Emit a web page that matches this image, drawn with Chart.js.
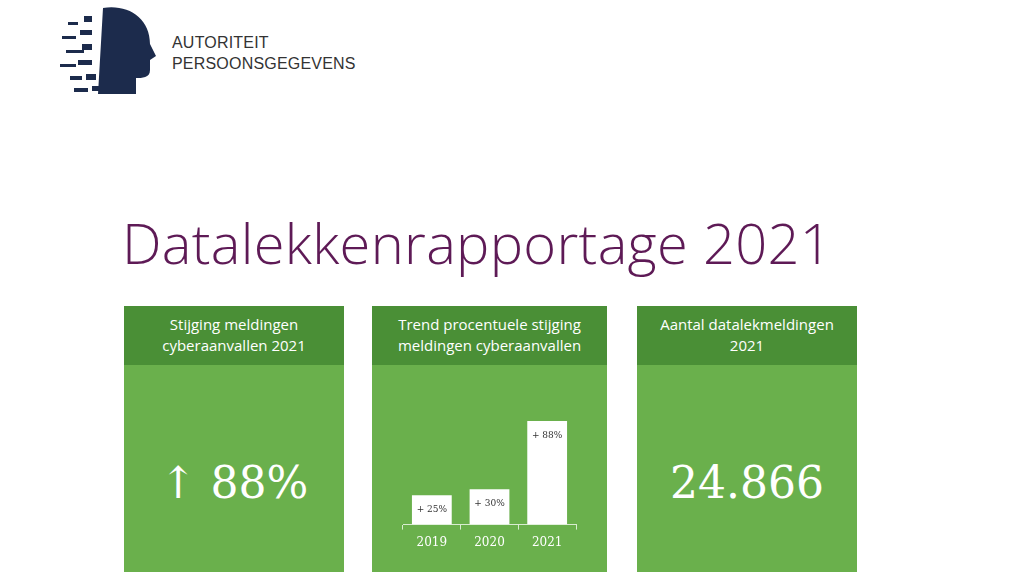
<!DOCTYPE html>
<html>
<head>
<meta charset="utf-8">
<script src="https://cdn.jsdelivr.net/npm/chart.js@4"></script>
<style>
body { margin:0; width:1030px; height:580px; background:#fff; position:relative; overflow:hidden; font-family:"Open Sans", sans-serif; }
.logo { position:absolute; left:58px; top:4px; width:98px; height:92px; }
.org { position:absolute; left:172px; top:32px; color:#333; font-size:16px; line-height:21px; letter-spacing:0.2px; font-family:"Liberation Sans", sans-serif; }
h1 { position:absolute; left:122px; top:204px; margin:0; font-weight:300; font-size:56px; color:#5e1a56; font-family:"Open Sans", sans-serif; letter-spacing:0.3px; }
.panel { position:absolute; top:306px; height:266px; background:#6ab04c; }
.head { background:#4a8f36; height:59px; color:#fff; font-size:15px; line-height:21px; text-align:center; padding-top:8px; box-sizing:border-box; }
.big { color:#fff; font-family:"DejaVu Serif", serif; font-size:44px; text-align:center; margin-top:92px; }
</style>
</head>
<body>
<svg class="logo" viewBox="0 0 98 92">
  <path d="M45 4 C70 0 92 14 92 40 L98 52 L92 56 L92 66 C92 74 84 74 78 74 L78 90 L40 90 Z" fill="#1c2b4c"/>
  <g fill="#1c2b4c">
    <rect x="10" y="18" width="10" height="3"/><rect x="4" y="32" width="14" height="3"/>
    <rect x="22" y="26" width="12" height="5"/><rect x="8" y="46" width="18" height="3"/>
    <rect x="24" y="40" width="10" height="6"/><rect x="2" y="60" width="16" height="3"/>
    <rect x="20" y="56" width="14" height="5"/><rect x="12" y="72" width="12" height="4"/>
    <rect x="28" y="70" width="10" height="6"/><rect x="26" y="12" width="8" height="6"/>
    <rect x="16" y="84" width="14" height="4"/><rect x="34" y="82" width="8" height="5"/>
  </g>
</svg>
<div class="org">AUTORITEIT<br>PERSOONSGEGEVENS</div>
<h1>Datalekkenrapportage 2021</h1>

<div class="panel" style="left:124px;width:220px;">
  <div class="head">Stijging meldingen<br>cyberaanvallen 2021</div>
  <div class="big">↑ 88%</div>
</div>
<div class="panel" style="left:372px;width:235px;">
  <div class="head">Trend procentuele stijging<br>meldingen cyberaanvallen</div>
  <canvas id="trend" width="235" height="207" style="display:block;"></canvas>
</div>
<div class="panel" style="left:637px;width:220px;">
  <div class="head">Aantal datalekmeldingen<br>2021</div>
  <div class="big">24.866</div>
</div>

<script>
var years = ['2019', '2020', '2021'];
var stijging = [25, 30, 88];

var barLabels = {
  id: 'barLabels',
  afterDatasetsDraw: function(chart) {
    var c = chart.ctx;
    var meta = chart.getDatasetMeta(0);
    c.save();
    c.fillStyle = '#333';
    c.font = '9px "DejaVu Serif", serif';
    c.textAlign = 'center';
    c.textBaseline = 'top';
    meta.data.forEach(function(bar, i) {
      c.fillText('+ ' + stijging[i] + '%', bar.x, bar.y + 10);
    });
    c.restore();
  }
};

new Chart(document.getElementById('trend'), {
  type: 'bar',
  data: {
    labels: years,
    datasets: [{
      data: stijging,
      backgroundColor: '#ffffff',
      barPercentage: 0.69,
      categoryPercentage: 1
    }]
  },
  options: {
    responsive: false,
    animation: false,
    layout: { padding: { left: 31, right: 31, top: 42, bottom: 16 } },
    plugins: { legend: { display: false }, tooltip: { enabled: false } },
    scales: {
      x: {
        grid: { offset: true, drawOnChartArea: false, color: '#d8ecd0', tickLength: 5 },
        border: { color: '#d8ecd0' },
        ticks: { color: '#fff', font: { family: '"DejaVu Serif", serif', size: 12 }, padding: 6 }
      },
      y: { display: false, min: 0, max: 100 }
    }
  },
  plugins: [barLabels]
});
</script>
</body>
</html>
